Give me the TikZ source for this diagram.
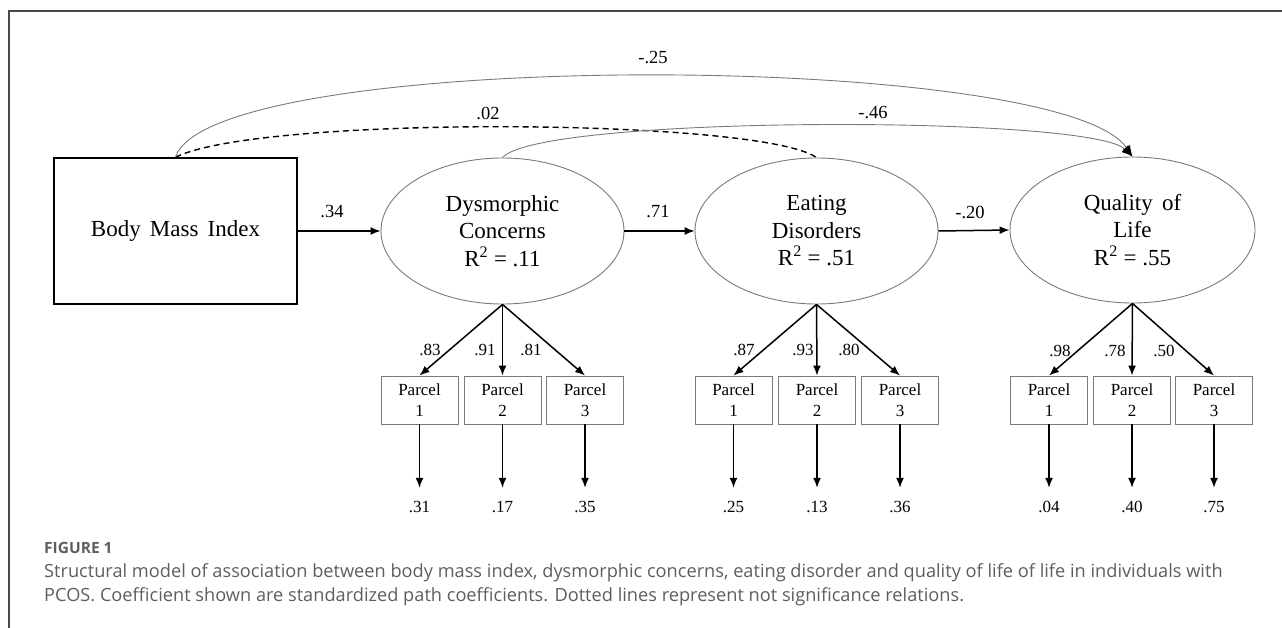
\documentclass[tikz,border=0pt]{standalone}
\usepackage{fontspec}
\setmainfont{Liberation Serif}
\newfontfamily\capfont{Open Sans}
\usetikzlibrary{shapes.geometric,arrows.meta}
\definecolor{linegray}{HTML}{7A7A7A}
\definecolor{capgray}{HTML}{5E5E5E}
\definecolor{framegray}{HTML}{4A4A4A}
\begin{document}
\begin{tikzpicture}[x=1pt,y=-1pt,
  latent/.style={ellipse,draw=linegray,line width=0.9pt,minimum width=243pt,minimum height=146pt,inner sep=0pt,align=center,font=\fontsize{23}{27.5}\selectfont},
  observed/.style={rectangle,draw=black,line width=1.5pt,minimum width=243pt,minimum height=146pt,inner sep=0pt,font=\fontsize{23}{27}\selectfont},
  parcelbox/.style={rectangle,draw=linegray,line width=0.9pt,minimum width=77pt,minimum height=48pt,inner sep=0pt,align=center,font=\fontsize{17}{21}\selectfont},
  coef/.style={inner sep=0pt,font=\fontsize{18.5}{18.5}\selectfont},
  load/.style={inner sep=0pt,font=\fontsize{17}{17}\selectfont},
  errlab/.style={inner sep=0pt,text height=11pt,text depth=0pt,font=\fontsize{17}{17}\selectfont},
  patharrow/.style={-{Latex[length=10pt,width=8pt]},line width=1.5pt,black},
  errarrow/.style={-{Latex[length=10pt,width=8pt]},line width=1.5pt,black,shorten >=13.5pt},
  covcurve/.style={-{Latex[length=11pt,width=9pt,color=black]},draw=linegray,line width=0.9pt},
  nscurve/.style={draw=black,line width=1.4pt,dash pattern=on 6pt off 4pt}
]
\useasboundingbox (0,0) rectangle (1282,628);
% frame
\draw[framegray,line width=1.1pt] (1282,11) -- (9,11) -- (9,628);

% main nodes
\node[observed] (bmi) at (175.5,231) {Body\hspace{0.15em} Mass\hspace{0.15em} Index};
\node[latent] (dc) at (502.5,231) {\raisebox{0pt}{}Dysmorphic\\Concerns\\R\textsuperscript{2} = .11};
\node[latent] (ed) at (816.5,231) {Eating\\Disorders\\R\textsuperscript{2} = .51};
\node[latent,minimum width=245pt] (qol) at (1132.5,230) {Quality\hspace{0.15em} of\\Life\\R\textsuperscript{2} = .55};

% parcels
\foreach \n/\x in {dca/419.5,dcb/502.5,dcc/585,eda/733.5,edb/817,edc/900,qla/1049,qlb/1132,qlc/1214}{
  \coordinate (pos\n) at (\x,400);
}
\node[parcelbox] (dc1) at (posdca) {Parcel\\1};
\node[parcelbox] (dc2) at (posdcb) {Parcel\\2};
\node[parcelbox] (dc3) at (posdcc) {Parcel\\3};
\node[parcelbox] (ed1) at (poseda) {Parcel\\1};
\node[parcelbox] (ed2) at (posedb) {Parcel\\2};
\node[parcelbox] (ed3) at (posedc) {Parcel\\3};
\node[parcelbox] (ql1) at (posqla) {Parcel\\1};
\node[parcelbox] (ql2) at (posqlb) {Parcel\\2};
\node[parcelbox] (ql3) at (posqlc) {Parcel\\3};

% error values
\node[errlab] (e1) at (419.5,507) {.31};
\node[errlab] (e2) at (502.5,507) {.17};
\node[errlab] (e3) at (585,507) {.35};
\node[errlab] (e4) at (733.5,507) {.25};
\node[errlab] (e5) at (817,507) {.13};
\node[errlab] (e6) at (900,507) {.36};
\node[errlab] (e7) at (1049,507) {.04};
\node[errlab] (e8) at (1132,507) {.40};
\node[errlab] (e9) at (1214,507) {.75};

% structural paths
\draw[patharrow] (bmi.east) -- (dc.west);
\draw[patharrow] (dc.east) -- (ed.west);
\draw[patharrow] (ed.east) -- (qol.west);
\node[coef] (l34) at (332,212) {.34};
\node[coef] (l71) at (658,212) {.71};
\node[coef] (l20) at (970,212) {-.20};

% curved paths
\draw[nscurve] (bmi.north) .. controls (260,115) and (760,118) .. (ed.north);
\draw[covcurve] (bmi.north) .. controls (210,48) and (1060,50) .. (qol.north);
\draw[covcurve] (dc.north) .. controls (540,115) and (1090,115) .. (qol.north);
\node[coef] (l25) at (653,58) {-.25};
\node[coef] (l02) at (488,113) {.02};
\node[coef] (l46) at (873,113) {-.46};

% loadings
\foreach \f/\t in {dc/dc1,dc/dc2,dc/dc3,ed/ed1,ed/ed2,ed/ed3,qol/ql1,qol/ql2,qol/ql3}{
  \draw[patharrow] (\f.south) -- (\t.north);
}
\node[load] (k1) at (430,350) {.83};
\node[load] (k2) at (485,350) {.91};
\node[load] (k3) at (531,350) {.81};
\node[load] (k4) at (744,350) {.87};
\node[load] (k5) at (803,350) {.93};
\node[load] (k6) at (849,350) {.80};
\node[load] (k7) at (1060,351) {.98};
\node[load] (k8) at (1115,351) {.78};
\node[load] (k9) at (1164,351) {.50};

% residual arrows
\foreach \p/\e in {dc1/e1,dc2/e2,dc3/e3,ed1/e4,ed2/e5,ed3/e6,ql1/e7,ql2/e8,ql3/e9}{
  \draw[errarrow] (\p.south) -- (\e.north);
}

% caption
\node[anchor=base west,inner sep=0pt,text=capgray,font=\capfont\bfseries\fontsize{15.5}{18}\selectfont] (figlabel) at (44,553) {FIGURE 1};
\node[anchor=base west,inner sep=0pt,text=capgray,font=\capfont\fontsize{18.2}{22}\selectfont] (cap1) at (44,577) {Structural model of association between body mass index, dysmorphic concerns, eating disorder and quality of life of life in individuals with};
\node[anchor=base west,inner sep=0pt,text=capgray,font=\capfont\fontsize{18.2}{22}\selectfont] (cap2) at (44,601) {PCOS. Coefficient shown are standardized path coefficients. Dotted lines represent not significance relations.};
\end{tikzpicture}
\end{document}
